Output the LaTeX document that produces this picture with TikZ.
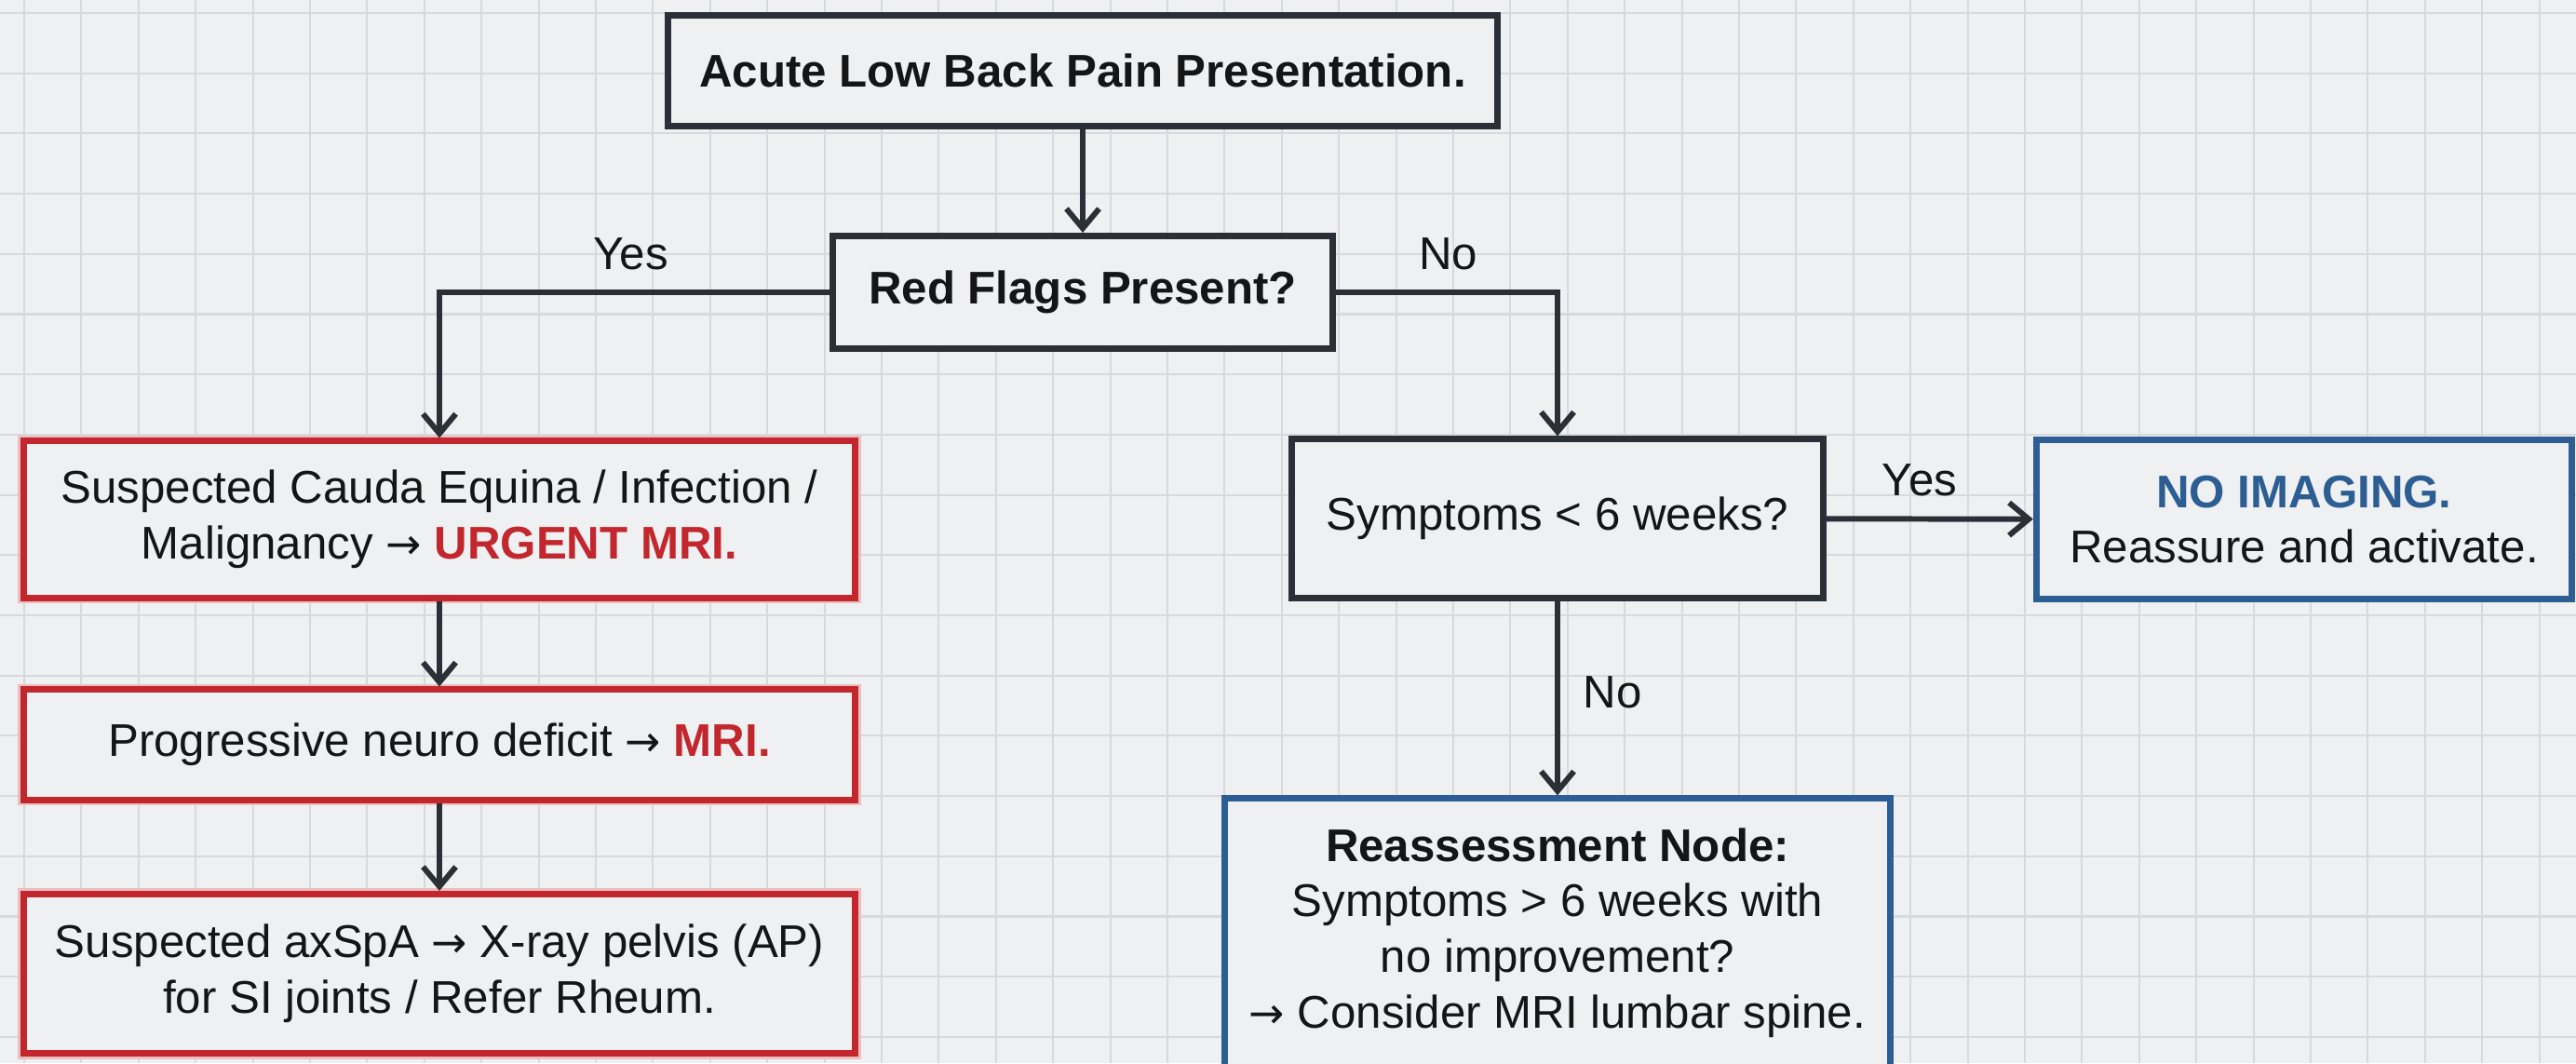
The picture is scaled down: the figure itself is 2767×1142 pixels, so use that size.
\documentclass[tikz,border=0pt]{standalone}
\usepackage{fontspec}
\setmainfont{Liberation Sans}
\newfontfamily\arrowfont{DejaVu Sans}
\newcommand{\rarr}{{\arrowfont\fontsize{13}{17}\selectfont →}}
\usetikzlibrary{arrows.meta,positioning}
\definecolor{paper}{HTML}{EEF0F2}
\definecolor{gridline}{HTML}{D6D9DD}
\definecolor{boxgray}{HTML}{2B3037}
\definecolor{flagred}{HTML}{C1272D}
\definecolor{noteblue}{HTML}{2C5E93}
\definecolor{inkblack}{HTML}{151515}
\tikzset{
  box/.style     = {shape=rectangle, draw=boxgray, line width=2pt,
                    fill=paper, align=center, inner sep=0pt,
                    text=inkblack, font=\fontsize{14}{17}\selectfont},
  boldbox/.style = {box, font=\fontsize{14}{17}\selectfont\bfseries},
  redbox/.style  = {box, draw=flagred,
                    preaction={draw=flagred!30, line width=3.6pt}},
  bluebox/.style = {box, draw=noteblue},
  lbl/.style     = {inner sep=0pt, text=inkblack,
                    font=\fontsize{14}{17}\selectfont}
}
\begin{document}
\begin{tikzpicture}[x=0.01cm, y=-0.01cm, ->, >={Straight Barb[length=6pt,width=10pt]},
   color=boxgray, line width=1.7pt]
\useasboundingbox (0,0) rectangle (2767,1142);
% paper and grid
\fill[paper, -] (0,0) rectangle (2767,1142);
\foreach \gx in {0,...,44}
  \draw[gridline, line width=0.6pt, -] ({26+61.4*\gx},0) -- ({26+61.4*\gx},1142);
\foreach \gy in {0,...,17}
  \draw[gridline, line width=0.6pt, -] (0,{14+64.7*\gy}) -- (2767,{14+64.7*\gy});
% main column
\node [boldbox, minimum width=8.90cm, minimum height=1.18cm] (present) at (1163,76)
  {Acute Low Back Pain Presentation.};
\node [boldbox, minimum width=5.36cm, minimum height=1.21cm] (flags) at (1163,314)
  {Red Flags Present?};
% red flag branch
\node [redbox, minimum width=8.92cm, minimum height=1.68cm] (cauda) at (472,558)
  {Suspected Cauda Equina / Infection /\\
   Malignancy \rarr\ \textcolor{flagred}{\textbf{URGENT MRI.}}};
\node [redbox, minimum width=8.92cm, minimum height=1.18cm] (neuro) at (472,800)
  {Progressive neuro deficit \rarr\ \textcolor{flagred}{\textbf{MRI.}}};
\node [redbox, minimum width=8.92cm, minimum height=1.71cm] (axspa) at (472,1046)
  {Suspected axSpA \rarr\ X-ray pelvis (AP)\\ for SI joints / Refer Rheum.};
% no red flags
\node [box, minimum width=5.71cm, minimum height=1.70cm] (weeks) at (1673,557)
  {Symptoms < 6 weeks?};
\node [bluebox, minimum width=5.75cm, minimum height=1.70cm] (noimg) at (2475,558)
  {\textcolor{noteblue}{\textbf{NO IMAGING.}}\\ Reassure and activate.};
\node [bluebox, minimum width=7.14cm, minimum height=2.88cm] (reass) at (1673,1002)
  {\textbf{Reassessment Node:}\\ Symptoms > 6 weeks with\\ no improvement?\\
   \rarr\ Consider MRI lumbar spine.};
% connectors
\draw (present) -- (flags);
\draw (flags.west) -| node [lbl, above=6pt, pos=0.255] {Yes} (cauda.north);
\draw (flags.east) -| node [lbl, above=6pt, pos=0.254] {No} (weeks.north);
\draw (cauda) -- (neuro);
\draw (neuro) -- (axspa);
\draw (weeks) -- node [lbl, above=6pt, pos=0.45] {Yes} (noimg);
\draw (weeks) -- node [lbl, right=7pt, pos=0.47] {No} (reass);
\end{tikzpicture}
\end{document}
